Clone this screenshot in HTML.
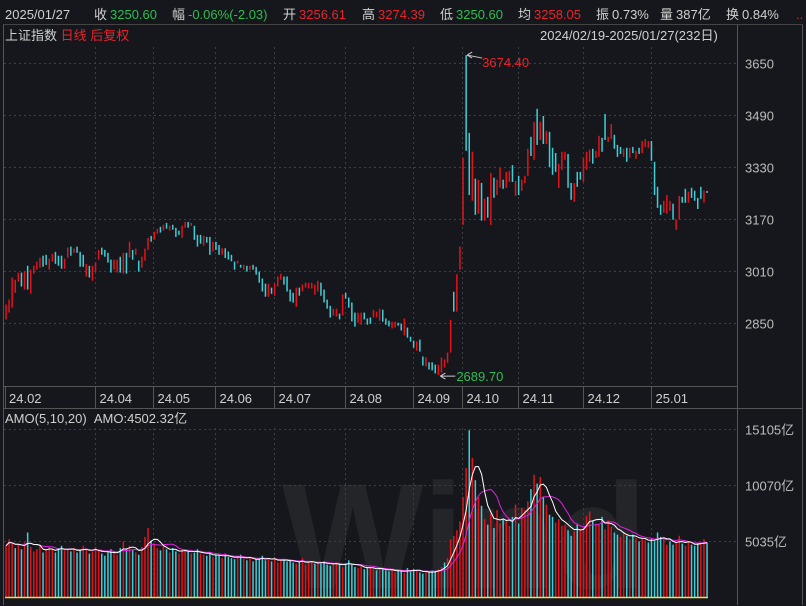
<!DOCTYPE html>
<html><head><meta charset="utf-8">
<style>
html,body{margin:0;padding:0;background:#15171c;width:806px;height:606px;overflow:hidden;}
svg{display:block;font-family:"Liberation Sans","Noto Sans CJK SC",sans-serif;overflow:hidden;}
</style></head>
<body>
<svg id="chart" width="806" height="606" viewBox="0 0 806 606">
<rect x="0" y="0" width="806" height="606" fill="#15171c"/>
<g font-size="13">
<text x="5" y="19" fill="#d0d0d0">2025/01/27</text>
<text x="94" y="19" fill="#d0d0d0">收</text><text x="110" y="19" fill="#2ebd4f">3250.60</text>
<text x="172" y="19" fill="#d0d0d0">幅</text><text x="188" y="19" fill="#2ebd4f">-0.06%(-2.03)</text>
<text x="283" y="19" fill="#d0d0d0">开</text><text x="299" y="19" fill="#e8242a">3256.61</text>
<text x="362" y="19" fill="#d0d0d0">高</text><text x="378" y="19" fill="#e8242a">3274.39</text>
<text x="440" y="19" fill="#d0d0d0">低</text><text x="456" y="19" fill="#2ebd4f">3250.60</text>
<text x="518" y="19" fill="#d0d0d0">均</text><text x="534" y="19" fill="#e8242a">3258.05</text>
<text x="596" y="19" fill="#d0d0d0">振</text><text x="612" y="19" fill="#d0d0d0">0.73%</text>
<text x="660" y="19" fill="#d0d0d0">量</text><text x="676" y="19" fill="#d0d0d0">387亿</text>
<text x="726" y="19" fill="#d0d0d0">换</text><text x="742" y="19" fill="#d0d0d0">0.84%</text>
<text x="796" y="19" fill="#e8242a">..</text>
</g>
<line x1="3" y1="24.5" x2="803" y2="24.5" stroke="#444"/>
<text x="5" y="40" font-size="13" fill="#d0d0d0">上证指数 <tspan fill="#e8242a">日线 后复权</tspan></text>
<text x="540" y="40" font-size="13" fill="#d0d0d0">2024/02/19-2025/01/27(232日)</text>
<line x1="3.5" y1="25" x2="3.5" y2="605" stroke="#555"/>
<line x1="737.5" y1="25" x2="737.5" y2="605" stroke="#555"/>
<line x1="802.5" y1="25" x2="802.5" y2="605" stroke="#555"/>
<line x1="3" y1="386.5" x2="737" y2="386.5" stroke="#555"/>
<line x1="3" y1="408.5" x2="803" y2="408.5" stroke="#555"/>
<text x="282" y="588" font-size="150" font-weight="bold" fill="#232529">Wind</text>
<g id="grid"></g>
<g id="vol"></g>
<g id="candles"></g>
<g id="labels"></g>
<text x="5" y="423" font-size="13" fill="#d0d0d0">AMO(5,10,20)&#160;&#160;AMO:4502.32亿</text>
</svg>
<script>
const opens=[2861,2882,2897,2943,2977,3005,2953,3026,2940,3002,
3014,3020,3057,3060,3014,3039,3069,3057,3057,3017,
3051,3085,3066,3085,3069,3060,2993,3026,2980,3008,
3045,3082,3075,3066,3045,3014,3005,3054,3002,3066,
3051,3075,3060,3042,3020,3042,3075,3118,3106,3125,
3146,3134,3158,3134,3152,3143,3134,3112,3143,3161,
3149,3149,3121,3121,3088,3115,3115,3070,3100,3090,
3060,3080,3070,3060,3039,3033,3029,3014,3026,3014,
3029,3023,3008,2987,2971,2931,2959,2934,2962,2983,
2993,2993,2953,2943,2900,2959,2947,2959,2956,2956,
2937,2947,2974,2953,2922,2903,2873,2870,2879,2873,
2943,2928,2913,2882,2851,2845,2882,2864,2867,2867,
2867,2857,2891,2864,2857,2833,2836,2851,2848,2812,
2836,2808,2796,2765,2799,2747,2716,2729,2729,2722,
2690,2697,2713,2728,2759,2946,2885,3014,3152,3674,
3435,3226,3294,3186,3281,3165,3238,3152,3297,3244,
3266,3291,3266,3284,3336,3241,3303,3257,3281,3303,
3423,3352,3509,3413,3487,3401,3438,3389,3373,3266,
3321,3352,3370,3281,3223,3315,3315,3284,3321,3346,
3386,3358,3361,3420,3493,3407,3416,3429,3398,3392,
3361,3389,3358,3392,3355,3389,3373,3392,3389,3410,
3346,3269,3214,3189,3186,3195,3217,3137,3168,3238,
3263,3220,3266,3257,3235,3269,3220,3256.61];
const closes=[2907,2922,2990,2983,3005,2962,3008,2953,3014,3026,
3039,3051,3023,3029,3048,3063,3032,3026,3017,3048,
3082,3057,3079,3066,3023,3023,3032,2990,3026,3036,
3075,3060,3054,3036,3005,3045,3045,3005,3066,3002,
3100,3045,3079,3008,3054,3079,3112,3100,3131,3140,
3128,3152,3140,3149,3137,3115,3121,3149,3161,3143,
3158,3106,3085,3094,3118,3097,3060,3100,3075,3060,
3080,3050,3045,3040,3014,3042,3020,3029,3008,3026,
3014,2999,2974,2947,2931,2971,2940,2971,2993,3002,
2968,2947,2916,2913,2959,2934,2968,2974,2974,2974,
2968,2980,2934,2913,2894,2867,2894,2894,2861,2938,
2925,2897,2855,2839,2882,2882,2861,2845,2848,2891,
2885,2894,2854,2845,2839,2854,2854,2842,2827,2864,
2805,2793,2774,2793,2762,2719,2744,2707,2704,2695,
2722,2744,2738,2759,2860,2885,3000,3085,3358,3380,
3244,3377,3183,3291,3165,3232,3174,3312,3235,3291,
3327,3263,3315,3318,3284,3287,3244,3291,3303,3386,
3364,3469,3398,3469,3401,3441,3330,3306,3315,3340,
3377,3377,3266,3229,3281,3269,3291,3358,3377,3383,
3340,3380,3426,3377,3413,3423,3462,3386,3361,3370,
3386,3346,3389,3373,3380,3370,3410,3416,3410,3349,
3244,3204,3183,3226,3244,3226,3168,3168,3241,3220,
3220,3254,3235,3226,3201,3232,3257,3250.6];
const volumes=[4600,5200,4800,4400,4700,4300,4900,5800,4500,4100,4300,4600,4000,4200,4500,4300,4000,4400,4600,4200,4300,
4100,4400,4000,4200,4600,4300,3900,4100,4500,4200,3900,3700,4000,4300,4100,3800,4400,5000,4300,4600,
4200,4000,3800,4500,5400,6200,5100,4800,4400,4200,4600,4300,4000,4400,4100,3900,4300,4200,4100,3900,
4000,4300,3900,3800,3700,4000,3600,3800,3700,3500,3900,3600,3500,3400,3600,3800,3500,3300,3600,3200,3400,
3500,3700,3300,3400,3200,3600,3100,3300,3400,3200,3300,3100,3000,3200,3500,2900,3100,3200,3000,3100,
3000,3200,2900,2800,3000,3100,2900,2700,3000,3300,2900,2700,2600,2800,2500,2600,2700,2500,2400,2600,
2500,2400,2300,2500,2200,2400,2300,2200,2600,2300,2500,2400,2200,2100,2300,2200,2400,2300,2500,2700,
3100,3500,5200,5500,6000,6800,9000,11600,15000,
12500,10500,9000,8200,7000,6500,7500,6200,7800,6600,7000,6800,6400,7200,8300,6600,8000,7800,8600,9700,11000,
10200,10800,9000,8300,7400,7200,6700,7000,6400,6500,6000,5500,5900,6600,6100,6300,7300,7700,6800,6600,
6500,7200,6100,6900,6300,5800,5600,5400,5800,5500,5200,5600,5300,5000,5300,5100,4900,5200,5000,5800,
5400,5200,4700,5000,4700,4900,5500,4800,4600,5000,4700,4600,4800,4900,5200,4900,4500];
const priceTicks=[3650,3490,3330,3170,3010,2850];
const volTicks=[15105,10070,5035];
const monthLabels=["24.02","24.04","24.05","24.06","24.07","24.08","24.09","24.10","24.11","24.12","25.01"];
const monthStartIdx=[0,30,49,69,88,111,133,149,167,188,210];
const peakHigh=3674.40, peakIdx=149;
const troughLow=2689.70, troughIdx=140;

const NS="http://www.w3.org/2000/svg";
const N=Math.min(opens.length,closes.length);
const xOf=i=>6+i*(707-6)/(N-1);
const yP=p=>63+(3650-p)*(52/160);
const yV=v=>597-v*(56/5035);
const RED="#e4121a",CYAN="#3ccfd6";
function mk(tag,attrs,parent){const e=document.createElementNS(NS,tag);for(const k in attrs)e.setAttribute(k,attrs[k]);parent.appendChild(e);return e;}
const grid=document.getElementById('grid'),cg=document.getElementById('candles'),vg=document.getElementById('vol'),lg=document.getElementById('labels');

priceTicks.forEach(p=>{
  const y=Math.round(yP(p))+0.5;
  const l=mk('line',{x1:4,x2:737,y1:y,y2:y,stroke:'#3c3f46','stroke-dasharray':'2,3'},grid);
  
  
  const t=mk('text',{x:745,y:y+5,fill:'#bdbdbd','font-size':13},lg);t.textContent=p;
  
  
});
volTicks.forEach(v=>{
  const y=Math.round(yV(v))+0.5;
  const l=mk('line',{x1:4,x2:737,y1:y,y2:y,stroke:'#3c3f46','stroke-dasharray':'2,3'},grid);
  
  
  const t=mk('text',{x:745,y:y+5,fill:'#bdbdbd','font-size':13},lg);t.textContent=v+'亿';
  
  
});
monthLabels.forEach((m,k)=>{
  const x=Math.round(xOf(monthStartIdx[k]))-3.5;
  if(k>0){
    const l=mk('line',{x1:x,x2:x,y1:47,y2:386,stroke:'#3c3f46','stroke-dasharray':'2,3'},grid);
    
    
    const l2=mk('line',{x1:x,x2:x,y1:428,y2:597,stroke:'#3c3f46','stroke-dasharray':'2,3'},grid);
    
    
  }
  const tk=mk('line',{x1:Math.max(x,5.5),x2:Math.max(x,5.5),y1:386,y2:408,stroke:'#555'},lg);
  
  
  const t=mk('text',{x:Math.max(x,5)+4,y:403,fill:'#d0d0d0','font-size':13},lg);t.textContent=m;
  
  
});
for(let i=0;i<N;i++){
  const o=opens[i],c=closes[i],up=c>=o,x=xOf(i);
  let hi=Math.max(o,c),lo=Math.min(o,c);
  if(i===peakIdx)hi=peakHigh;
  if(i===troughIdx)lo=troughLow;
  const y1=yP(hi),y2=yP(lo);
  const r=mk('rect',{x:(x-0.75).toFixed(1),y:y1.toFixed(1),width:1.5,height:Math.max(1,y2-y1).toFixed(1),fill:up?RED:CYAN},cg);
  
  
  const v=volumes[i]||0,prev=i>0?closes[i-1]:o;
  const vr=mk('rect',{x:(x-0.75).toFixed(1),y:yV(v).toFixed(1),width:1.5,height:(597-yV(v)).toFixed(1),fill:(c>=prev)?RED:CYAN},vg);
  
  
}
function ma(n){const out=[];for(let i=0;i<N;i++){let s=0,k=0;for(let j=Math.max(0,i-n+1);j<=i;j++){s+=volumes[j]||0;k++;}out.push(s/k);}return out;}
[[10,'#e020e0','volume-ma10'],[5,'#ffffff','volume-ma5']].forEach(([n,col,name])=>{
  const m=ma(n);
  const d=m.map((v,i)=>(i?'L':'M')+xOf(i).toFixed(1)+','+yV(v).toFixed(1)).join('');
  const p=mk('path',{d:d,fill:'none',stroke:col,'stroke-width':1},vg);
  
  
});
const base=mk('line',{x1:5,x2:708,y1:597.5,y2:597.5,stroke:'#e8e060','stroke-width':1.5},vg);


const px=xOf(peakIdx),py=yP(peakHigh);
const pa=mk('path',{d:`M${px+1},${py} l5,-3 M${px+1},${py} l5,3 M${px+1},${py} L${px+16},${py+3}`,stroke:'#ccc',fill:'none'},lg);


const pt=mk('text',{x:px+16,y:py+12,fill:'#e8242a','font-size':13},lg);pt.textContent=peakHigh.toFixed(2);


const tx=xOf(troughIdx)+2,ty=yP(troughLow)+1;
const ta=mk('path',{d:`M${tx},${ty} l5,-3 M${tx},${ty} l5,3 M${tx},${ty} L${tx+15},${ty}`,stroke:'#ccc',fill:'none'},lg);


const tt=mk('text',{x:tx+16,y:ty+5,fill:'#2ebd4f','font-size':13},lg);tt.textContent=troughLow.toFixed(2);


</script>
</body></html>
